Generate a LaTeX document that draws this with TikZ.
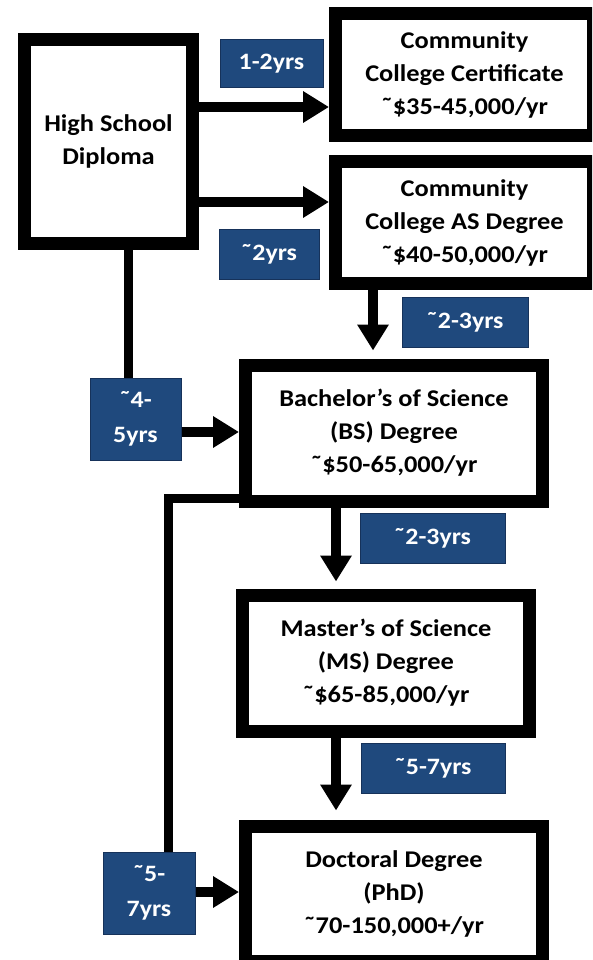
\documentclass[tikz,border=0pt]{standalone}
\usepackage{fontspec}
\setmainfont{Carlito}[FakeStretch=1.1]
\usetikzlibrary{arrows.meta}
\definecolor{lblue}{RGB}{31,73,125}
\definecolor{lbord}{RGB}{22,50,90}
\newcommand{\tld}{˜}
\begin{document}
\begin{tikzpicture}[x=1pt,y=-1pt,
  degbox/.style={draw, line width=13pt, fill=white, align=center,
    font=\fontsize{24}{33}\selectfont\bfseries, inner sep=0pt},
  yrs/.style={draw=lbord, line width=1pt, fill=lblue, text=white, align=center,
    font=\fontsize{23.5}{35}\selectfont\bfseries, inner sep=0pt},
  arr/.style={line width=10pt, -{Triangle[length=26pt,width=30pt]}},
  conn/.style={line width=9pt}]
\begin{scope}
\clip (0,0) rectangle (592,960);
\fill[white] (0,0) rectangle (592,960);
% degree boxes
\node[degbox, minimum width=168pt, minimum height=203pt] (hs) at (108.5,141.5) {High School\\Diploma};
\node[degbox, minimum width=258pt, minimum height=122pt] (cc1) at (464.5,75) {Community\\College Certificate\\\tld\$35-45,000/yr};
\node[degbox, minimum width=258pt, minimum height=121pt] (cc2) at (464.5,222.5) {Community\\College AS Degree\\\tld\$40-50,000/yr};
\node[degbox, minimum width=297pt, minimum height=136pt] (bs) at (394,433) {Bachelor’s of Science\\(BS) Degree\\\tld\$50-65,000/yr};
\node[degbox, minimum width=287pt, minimum height=136pt] (ms) at (386,663) {Master’s of Science\\(MS) Degree\\\tld\$65-85,000/yr};
\node[degbox, minimum width=297pt, minimum height=135pt] (phd) at (394,893.5) {Doctoral Degree\\(PhD)\\\tld70-150,000+/yr};
% year labels
\node[yrs, minimum width=103pt, minimum height=48pt] (l1) at (271.5,64) {1-2yrs};
\node[yrs, minimum width=100pt, minimum height=50pt] (l2) at (269,254) {\tld2yrs};
\node[yrs, minimum width=126pt, minimum height=50pt] (l3) at (465,322) {\tld2-3yrs};
\node[yrs, minimum width=91pt, minimum height=82pt] (l4) at (135.5,419) {\tld4-\\5yrs};
\node[yrs, minimum width=145pt, minimum height=50pt] (l5) at (432.5,538) {\tld2-3yrs};
\node[yrs, minimum width=144pt, minimum height=50pt] (l6) at (433,768) {\tld5-7yrs};
\node[yrs, minimum width=92pt, minimum height=82pt] (l7) at (149,893) {\tld5-\\7yrs};
% helper coordinates
\coordinate (a1) at (0,107);
\coordinate (a2) at (0,202);
\coordinate (a3) at (0,432);
\coordinate (a4) at (0,892);
\coordinate (h1) at (0,498);
\coordinate (v1) at (128.5,0);
\coordinate (v2) at (373,0);
\coordinate (v3) at (336,0);
\coordinate (v4) at (168,0);
% connectors
\draw[arr] (hs.east |- a1) -- (cc1.west |- a1);
\draw[arr] (hs.east |- a2) -- (cc2.west |- a2);
\draw[arr, shorten >=8pt] (cc2.south -| v2) -- (bs.north -| v2);
\draw[conn] (hs.south -| v1) -- (l4.north -| v1);
\draw[arr] (l4.east |- a3) -- (bs.west |- a3);
\draw[arr, shorten >=7pt] (bs.south -| v3) -- (ms.north -| v3);
\draw[arr, shorten >=9pt] (ms.south -| v3) -- (phd.north -| v3);
\draw[conn] ([xshift=4pt]bs.west |- h1) -| (l7.north -| v4);
\draw[arr] (l7.east |- a4) -- (phd.west |- a4);
\end{scope}
\pgfresetboundingbox
\path[use as bounding box] (0,0) rectangle (592,960);
\end{tikzpicture}
\end{document}
